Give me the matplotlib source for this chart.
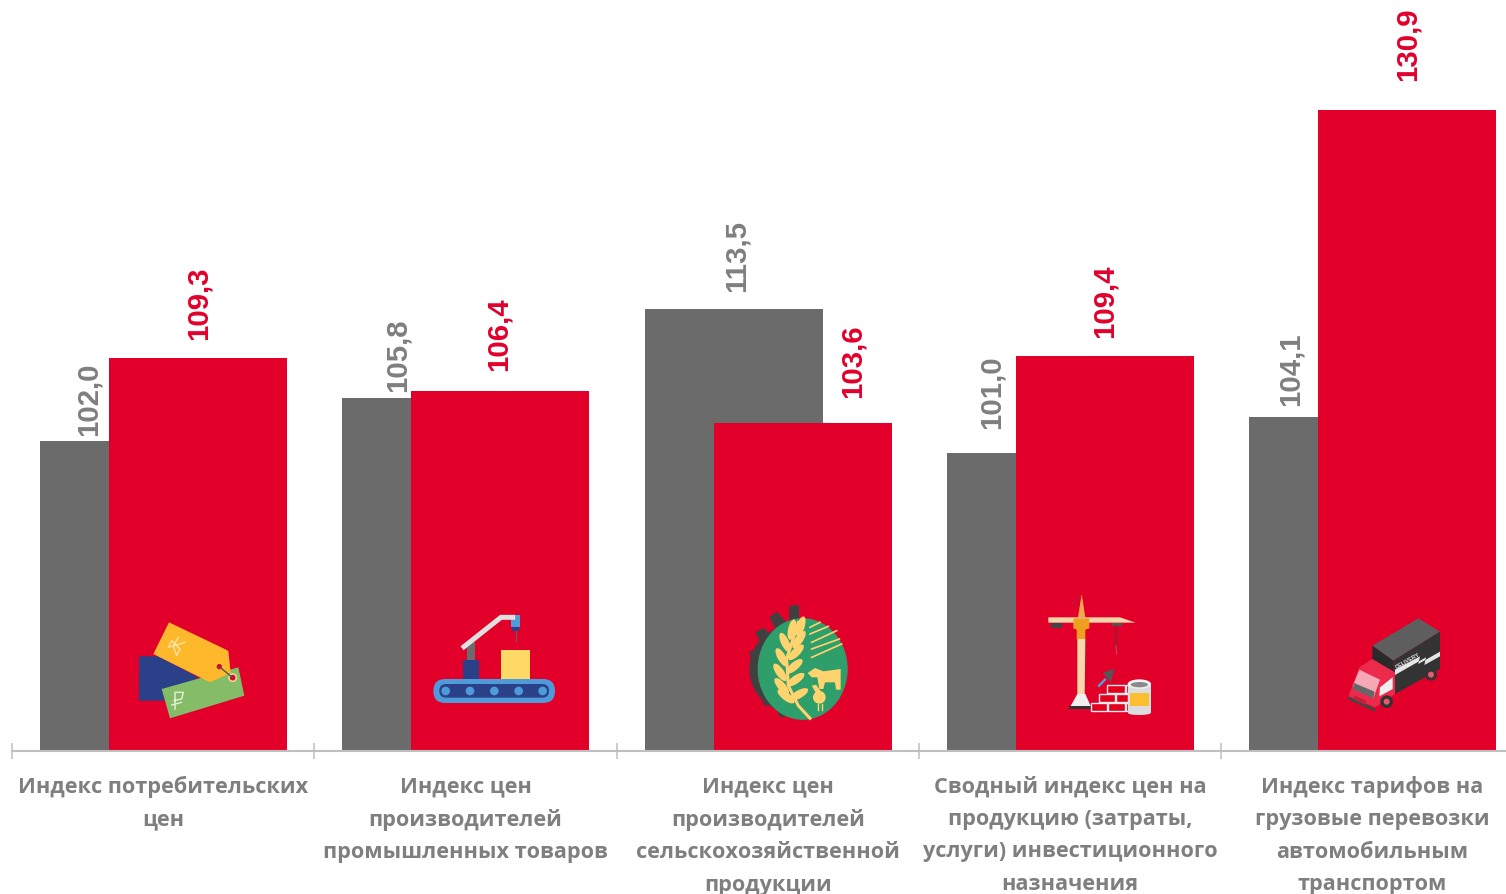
import matplotlib
matplotlib.use("Agg")
import matplotlib.pyplot as plt
from matplotlib.patches import Polygon, Rectangle, Circle, Ellipse, FancyBboxPatch

categories = [
    "Индекс потребительских\nцен",
    "Индекс цен\nпроизводителей\nпромышленных товаров",
    "Индекс цен\nпроизводителей\nсельскохозяйственной\nпродукции",
    "Сводный индекс цен на\nпродукцию (затраты,\nуслуги) инвестиционного\nназначения",
    "Индекс тарифов на\nгрузовые перевозки\nавтомобильным\nтранспортом",
]
grey_values = [102.0, 105.8, 113.5, 101.0, 104.1]
red_values = [109.3, 106.4, 103.6, 109.4, 130.9]

# layout of the value labels (pixels relative to the bar centre / bar top)
grey_dx = [-41, -34, 3, -44, -48]
grey_dy = [6, 7, 18, 25, 12]
red_dx = [0, -2, 50, 0, 0]
red_dy = [19, 21, 26, 19, 30]

GREY = "#6B6B6B"
RED = "#E2002B"
TXT = "#7F7F7F"
AXC = "#BFBFBF"
W, H = 1506, 895
PX = 0.72

fig = plt.figure(figsize=(W / 100, H / 100), dpi=100, facecolor="white")
ax = fig.add_axes([12 / W, (H - 752) / H, (W - 12) / W, 752 / H])
cat_w = 302.3
bar_w = 178 / cat_w
xs = list(range(len(categories)))
ax.set_xlim(-0.5, -0.5 + (W - 12) / cat_w)
ax.set_ylim(75, 75 + 752 / 11.47)
ax.bar([x - 34 / cat_w for x in xs], grey_values, bar_w, color=GREY, zorder=2)
ax.bar([x + 35 / cat_w for x in xs], red_values, bar_w, color=RED, zorder=3)
for s in ("top", "left", "right"):
    ax.spines[s].set_visible(False)
ax.spines["bottom"].set_color(AXC)
ax.spines["bottom"].set_linewidth(1.5)
ax.spines["bottom"].set_zorder(4)
ax.set_yticks([])
ax.set_xticks([x - 0.5 for x in range(len(xs))])
ax.set_xticklabels([])
ax.tick_params(axis="x", which="major", direction="inout", length=16 * PX,
               width=1.1, color=AXC)
ax.set_xticks(xs, minor=True)
ax.tick_params(axis="x", which="minor", length=0, pad=24 * PX)
ax.set_xticklabels(categories, minor=True, fontfamily="Open Sans", fontweight="bold",
                   fontsize=15.55, color=TXT, linespacing=1.71)

def value_label(x, v, dx, dy, col):
    ax.annotate(f"{v:.1f}".replace(".", ","), (x, v), xytext=(dx * PX, dy * PX),
                textcoords="offset points", rotation=90, ha="center", va="bottom",
                fontfamily="Liberation Sans", fontweight="bold", fontsize=21.2,
                color=col, zorder=6, annotation_clip=False)

for i, x in enumerate(xs):
    value_label(x - 34 / cat_w, grey_values[i], grey_dx[i], grey_dy[i], TXT)
    value_label(x + 35 / cat_w, red_values[i], red_dx[i], red_dy[i], RED)

# pictograms, in pixel coordinates of the figure
ov = fig.add_axes([0, 0, 1, 1], zorder=10)
ov.set_xlim(0, W)
ov.set_ylim(H, 0)
ov.axis("off")
ov.patch.set_alpha(0)

class Z:
    def __init__(self, x0, y0):
        self.x0, self.y0 = x0, y0
    def pt(self, x, y):
        return (self.x0 + x / 3, self.y0 + y / 3)
    def poly(self, pts, c, **k):
        ov.add_patch(Polygon([self.pt(*p) for p in pts], closed=True, fc=c, ec="none", **k))
    def rect(self, x1, y1, x2, y2, c, **k):
        ov.add_patch(Rectangle(self.pt(x1, y1), (x2 - x1) / 3, (y2 - y1) / 3, fc=c,
                               ec=k.pop("ec", "none"), **k))
    def circ(self, x, y, r, c, **k):
        ov.add_patch(Circle(self.pt(x, y), r / 3, fc=c, ec=k.pop("ec", "none"), **k))
    def ell(self, x, y, w, h, a, c):
        ov.add_patch(Ellipse(self.pt(x, y), w / 3, h / 3, angle=a, fc=c, ec="none"))
    def line(self, pts, c, lw, **k):
        q = [self.pt(*p) for p in pts]
        ov.plot([p[0] for p in q], [p[1] for p in q], color=c, lw=lw, **k)

# price tags
z = Z(120, 600)
z.poly([(57, 172), (115, 172), (235, 235), (130, 305), (57, 305)], "#2A4189")
z.poly([(125, 270), (355, 205), (373, 290), (150, 358)], "#85BC67")
z.poly([(147, 70), (310, 148), (325, 156), (332, 222), (270, 250), (100, 165)], "#FDB92B")
z.line([(298, 203), (338, 236)], "#555555", 1)
z.circ(338, 236, 11, "#E2002B", lw=1.2)
ov.patches[-1].set_edgecolor("#F4D58A")
z.circ(298, 203, 8, "#E2002B")
z.line([(175, 115), (160, 140), (170, 170), (180, 150), (155, 125), (145, 145), (195, 130)],
       "#FBE7B0", 0.9)
z.line([(165, 330), (165, 280), (190, 280), (185, 300), (162, 305)], "#E6F2DD", 1.0)
z.line([(155, 318), (185, 310)], "#E6F2DD", 0.9)

# conveyor
ov.add_patch(FancyBboxPatch(z.pt(976, 240), (1269 - 976) / 3, 72 / 3,
                            boxstyle=f"round,pad=0,rounding_size={36/3}",
                            fc="#4F9BD9", ec="none", mutation_aspect=1))
ov.patches[-1].set_bounds(*z.pt(940, 240), 365 / 3, 72 / 3)
ov.add_patch(FancyBboxPatch(z.pt(958, 255), 329 / 3, 41 / 3,
                            boxstyle=f"round,pad=0,rounding_size={20/3}",
                            fc="#2A4189", ec="none"))
for cx in (977, 1050, 1123, 1196, 1268):
    z.circ(cx, 276, 13, "#4F9BD9")
z.rect(1030, 183, 1077, 240, "#2A4189")
z.rect(1042, 130, 1065, 183, "#6B6B6B")
z.line([(1032, 143), (1143, 55), (1178, 55)], "#E0E0E0", 3.6, solid_joinstyle="miter")
z.line([(1187, 95), (1187, 125)], "#7A5560", 0.9)
z.rect(1177, 85, 1197, 97, "#2A4189")
z.rect(1173, 47, 1200, 85, "#4F9BD9")
z.rect(1143, 152, 1230, 240, "#FFD966")

# agriculture
z = Z(730, 590)
z.circ(190, 240, 132, "#404040")
for p in [[(178, 50), (207, 48), (207, 110), (178, 110)],
          [(118, 85), (140, 68), (175, 105), (145, 135)],
          [(76, 130), (100, 116), (130, 145), (100, 175)],
          [(57, 188), (85, 180), (105, 215), (68, 227)],
          [(60, 260), (85, 250), (105, 280), (72, 292)],
          [(90, 320), (115, 310), (135, 335), (105, 352)],
          [(142, 365), (165, 355), (180, 380), (150, 385)]]:
    z.poly(p, "#404040")
z.ell(218, 240, 270, 305, 0, "#2E9E6B")
Y = "#FFD36E"
z.line([(240, 388), (205, 350), (175, 290), (170, 210), (205, 100)], Y, 2.2)
for (x, y, a) in [(212, 112, 72), (186, 122, 78), (207, 152, 55), (165, 160, 65), (198, 190, 45),
                  (155, 205, 60), (193, 232, 40), (150, 250, 55), (197, 272, 35), (155, 292, 50),
                  (207, 316, 30), (168, 322, 38)]:
    z.ell(x, y, 62, 24, -a if x > 175 else a, Y)
for s in ([(240, 115), (270, 100)], [(240, 135), (295, 112)], [(245, 160), (320, 125)],
          [(245, 180), (328, 150)], [(245, 205), (335, 165)]):
    z.line(s, Y, 1.2)
z.poly([(233, 252), (255, 237), (280, 247), (332, 240), (332, 302), (318, 302), (315, 280),
        (285, 280), (280, 300), (268, 300), (262, 265), (245, 265)], Y)
z.circ(268, 325, 19, Y)
z.poly([(245, 290), (258, 287), (275, 310), (258, 312)], Y)
z.line([(265, 345), (265, 362)], Y, 1)
z.line([(275, 345), (275, 362)], Y, 1)

# construction
z.poly([(1055, 15), (1044, 85), (1066, 85)], "#F0A94C")
z.line([(1052, 20), (1022, 50)], "#A82A3F", 0.6)
z.poly([(955, 85), (1170, 85), (1217, 101), (955, 101)], "#F4D6A8")
z.rect(963, 101, 995, 116, "#444444")
z.rect(1146, 101, 1176, 110, "#555555")
z.poly([(1042, 150), (1066, 150), (1064, 320), (1042, 320)], "#F7D8AB")
z.poly([(1030, 88), (1078, 88), (1078, 118), (1066, 122), (1066, 150), (1040, 150), (1040, 122), (1030, 118)], "#F0A020")
z.line([(1158, 110), (1158, 170)], "#8E2238", 1.2)
z.line([(1158, 170), (1160, 195)], "#B8485C", 0.8)
z.poly([(1042, 315), (1066, 315), (1085, 358), (1018, 358)], "#EFEFEF")
z.poly([(1018, 352), (1085, 352), (1085, 360), (1018, 360)], "#333333")
z.poly([(1118, 252), (1152, 238), (1144, 280)], "#555555")
z.line([(1107, 290), (1125, 272)], "#4F9BD9", 1.8)
for (a, b, c, d) in [(1132, 289, 1184, 313), (1188, 289, 1196, 313), (1107, 316, 1154, 340),
                     (1158, 316, 1194, 340), (1082, 343, 1130, 367), (1134, 343, 1184, 367),
                     (1188, 343, 1196, 367)]:
    z.rect(a, b, c, d, "#E2001F", ec="#EDEDED", lw=1)
z.rect(1194, 285, 1262, 372, "#DDDDDD")
z.ell(1228, 372, 68, 12, 0, "#DDDDDD")
z.rect(1200, 312, 1256, 352, "#FBBE2E")
z.ell(1228, 285, 70, 28, 0, "#F2F2F2")
z.ell(1228, 287, 52, 16, 0, "#8A8A8A")

# truck
z = Z(1330, 610)
z.poly([(127, 110), (265, 28), (330, 68), (190, 155)], "#5E5E5E")
z.poly([(190, 155), (330, 68), (330, 180), (195, 255)], "#333333")
z.poly([(127, 110), (190, 155), (195, 255), (127, 200)], "#2A2A2A")
z.poly([(195, 182), (270, 142), (265, 165), (330, 128), (330, 142), (283, 168), (288, 145), (195, 198)], "#E6E6E6")
ov.text(*z.pt(234, 153), "DELIVERY", fontsize=4, color="#DDDDDD", rotation=30,
        fontfamily="Liberation Sans", fontweight="bold", ha="center", va="center")
z.circ(303, 197, 18, "#333333")
z.circ(303, 197, 9, "#E85A70")
z.poly([(88, 175), (127, 150), (195, 190), (195, 255), (135, 295), (55, 262)], "#EC2A4C")
z.poly([(88, 182), (150, 212), (130, 268), (68, 232)], "#F7A8B6")
z.poly([(72, 222), (134, 248), (130, 268), (68, 240)], "#666666")
z.poly([(150, 235), (188, 205), (188, 240), (148, 262)], "#EFEFEF")
z.poly([(55, 262), (135, 298), (135, 308), (55, 272)], "#444444")
z.poly([(72, 258), (108, 275), (106, 288), (72, 272)], "#C2203A")
z.circ(170, 278, 19, "#333333")
z.circ(170, 278, 9, "#E85A70")

fig.savefig("out.png", dpi=100, facecolor="white")
